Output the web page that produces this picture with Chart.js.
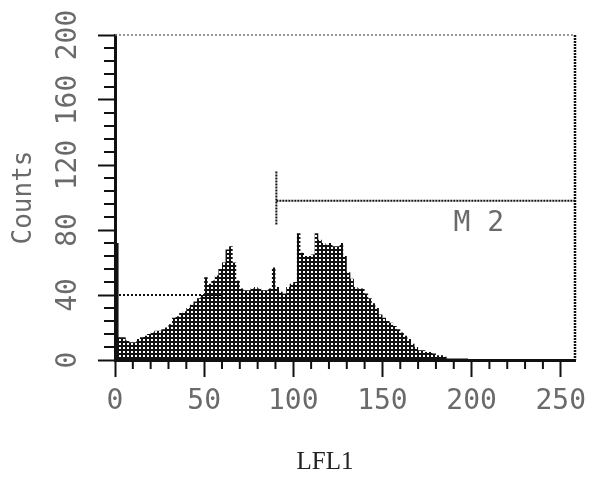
<!DOCTYPE html>
<html>
<head>
<meta charset="utf-8">
<script src="https://cdn.jsdelivr.net/npm/chart.js@4"></script>
<style>
  html, body { margin: 0; padding: 0; background: #fff; }
</style>
</head>
<body>
<canvas id="hist" width="597" height="478"></canvas>
<script>
// histogram, one value per 2-channel bin starting at channel 0
var binWidth = 2;
var counts = [
  72, 14, 14, 12, 11, 11, 13, 14, 15, 16,
  17, 18, 18, 19, 20, 22, 26, 27, 29, 30,
  32, 34, 36, 38, 40, 51, 47, 49, 52, 56,
  60, 68, 70, 60, 49, 44, 43, 43, 44, 45,
  44, 43, 43, 44, 57, 45, 42, 41, 45, 47,
  48, 78, 66, 64, 64, 65, 78, 74, 72, 71,
  72, 70, 70, 72, 64, 54, 50, 45, 44, 44,
  41, 38, 35, 32, 28, 26, 24, 23, 21, 19,
  17, 15, 13, 10, 8, 6, 6, 5, 5, 4,
  3, 3, 2, 1, 1, 1, 1, 1, 1, 0.5,
  0, 0, 0, 0, 0, 0, 0, 0, 0, 0,
  0, 0, 0, 0, 0, 0, 0, 0, 0, 0,
  0, 0, 0, 0, 0, 0, 0, 0, 0
];
var xTickValues = [0, 50, 100, 150, 200, 250];
var yTickValues = [0, 40, 80, 120, 160, 200];
var xMax = 258;
var yMax = 200;
var xTitle = 'LFL1';

// gates: level in counts, range in channels
var m1 = { from: 0, to: 60, level: 40 };
var m2 = { from: 90.5, to: 258, level: 98, tickLow: 83, tickHigh: 116, label: 'M 2', labelX: 204, labelY: 84 };

var points = counts.map(function(c, i) { return { x: i * binWidth, y: c }; });
points.push({ x: xMax, y: 0 });

// dotted fill like the old printout
function dotPattern() {
  var c = document.createElement('canvas');
  c.width = 4; c.height = 4;
  var g = c.getContext('2d');
  g.fillStyle = '#111';
  g.fillRect(0, 1, 4, 2);
  g.fillRect(1, 0, 2, 4);
  return g.createPattern(c, 'repeat');
}

var tickFont = { family: 'DejaVu Sans Mono', size: 28 };
var tickGray = '#6a6a6a';

var decor = {
  id: 'decor',
  beforeDatasetsDraw: function(chart) {
    var ctx = chart.ctx, x = chart.scales.x, y = chart.scales.y;
    ctx.save();
    ctx.strokeStyle = '#111';
    ctx.lineWidth = 2;
    ctx.setLineDash([2, 2]);
    ctx.beginPath();
    ctx.moveTo(x.getPixelForValue(m1.from), y.getPixelForValue(m1.level));
    ctx.lineTo(x.getPixelForValue(m1.to), y.getPixelForValue(m1.level));
    ctx.stroke();
    ctx.restore();
  },
  afterDraw: function(chart) {
    var ctx = chart.ctx, x = chart.scales.x, y = chart.scales.y, a = chart.chartArea;
    ctx.save();
    // top and right frame
    ctx.setLineDash([2, 2]);
    ctx.strokeStyle = '#777';
    ctx.lineWidth = 1.5;
    ctx.beginPath();
    ctx.moveTo(a.left, a.top);
    ctx.lineTo(a.right, a.top);
    ctx.stroke();
    ctx.strokeStyle = '#111';
    ctx.lineWidth = 2.5;
    ctx.setLineDash([2, 1]);
    ctx.beginPath();
    ctx.moveTo(a.right, a.top);
    ctx.lineTo(a.right, a.bottom);
    ctx.stroke();

    // minor ticks
    ctx.setLineDash([]);
    ctx.lineWidth = 2;
    ctx.beginPath();
    for (var v = 10; v <= 250; v += 10) {
      if (v % 50 === 0) continue;
      var px = x.getPixelForValue(v);
      ctx.moveTo(px, a.bottom);
      ctx.lineTo(px, a.bottom + 9);
    }
    for (var w = 8; w <= 200; w += 8) {
      if (w % 40 === 0) continue;
      var py = y.getPixelForValue(w);
      ctx.moveTo(a.left, py);
      ctx.lineTo(a.left - 11, py);
    }
    ctx.stroke();

    // M2 gate
    var gy = y.getPixelForValue(m2.level);
    var gx0 = x.getPixelForValue(m2.from);
    ctx.setLineDash([2, 1]);
    ctx.lineWidth = 2;
    ctx.beginPath();
    ctx.moveTo(gx0, gy);
    ctx.lineTo(x.getPixelForValue(m2.to), gy);
    ctx.moveTo(gx0, y.getPixelForValue(m2.tickHigh));
    ctx.lineTo(gx0, y.getPixelForValue(m2.tickLow));
    ctx.stroke();
    ctx.setLineDash([]);
    ctx.fillStyle = tickGray;
    ctx.font = '28px "DejaVu Sans Mono"';
    ctx.textAlign = 'center';
    ctx.textBaseline = 'middle';
    ctx.fillText(m2.label, x.getPixelForValue(m2.labelX), y.getPixelForValue(m2.labelY));

    // axis caption, sits a bit left of the plot centre in the original
    ctx.fillStyle = '#222';
    ctx.font = '25px "Liberation Serif"';
    ctx.fillText(xTitle, 325, 462);
    ctx.restore();
  }
};

new Chart(document.getElementById('hist').getContext('2d'), {
  type: 'line',
  data: {
    datasets: [{
      data: points,
      stepped: true,
      fill: 'origin',
      backgroundColor: dotPattern(),
      borderWidth: 0,
      pointRadius: 0
    }]
  },
  options: {
    responsive: false,
    animation: false,
    layout: { padding: { top: 35, right: 22, left: 0, bottom: 0 } },
    plugins: { legend: { display: false }, tooltip: { enabled: false } },
    scales: {
      x: {
        type: 'linear',
        min: 0,
        max: xMax,
        afterBuildTicks: function(s) { s.ticks = xTickValues.map(function(v) { return { value: v }; }); },
        afterFit: function(s) { s.height = 118; },
        grid: { drawOnChartArea: false, tickLength: 17, tickWidth: 2, tickColor: '#111' },
        border: { color: '#111', width: 3 },
        ticks: { font: tickFont, color: tickGray, padding: 8, maxRotation: 0 }
      },
      y: {
        min: 0,
        max: yMax,
        afterBuildTicks: function(s) { s.ticks = yTickValues.map(function(v) { return { value: v }; }); },
        afterFit: function(s) { s.width = 115; },
        grid: { drawOnChartArea: false, tickLength: 17, tickWidth: 2, tickColor: '#111' },
        border: { color: '#111', width: 3 },
        ticks: { font: tickFont, color: tickGray, padding: 4, minRotation: 90, maxRotation: 90, crossAlign: 'center' },
        title: {
          display: true,
          text: 'Counts',
          font: { family: 'DejaVu Sans Mono', size: 26 },
          color: tickGray,
          padding: { top: 9, bottom: 0 }
        }
      }
    }
  },
  plugins: [decor]
});
</script>
</body>
</html>
